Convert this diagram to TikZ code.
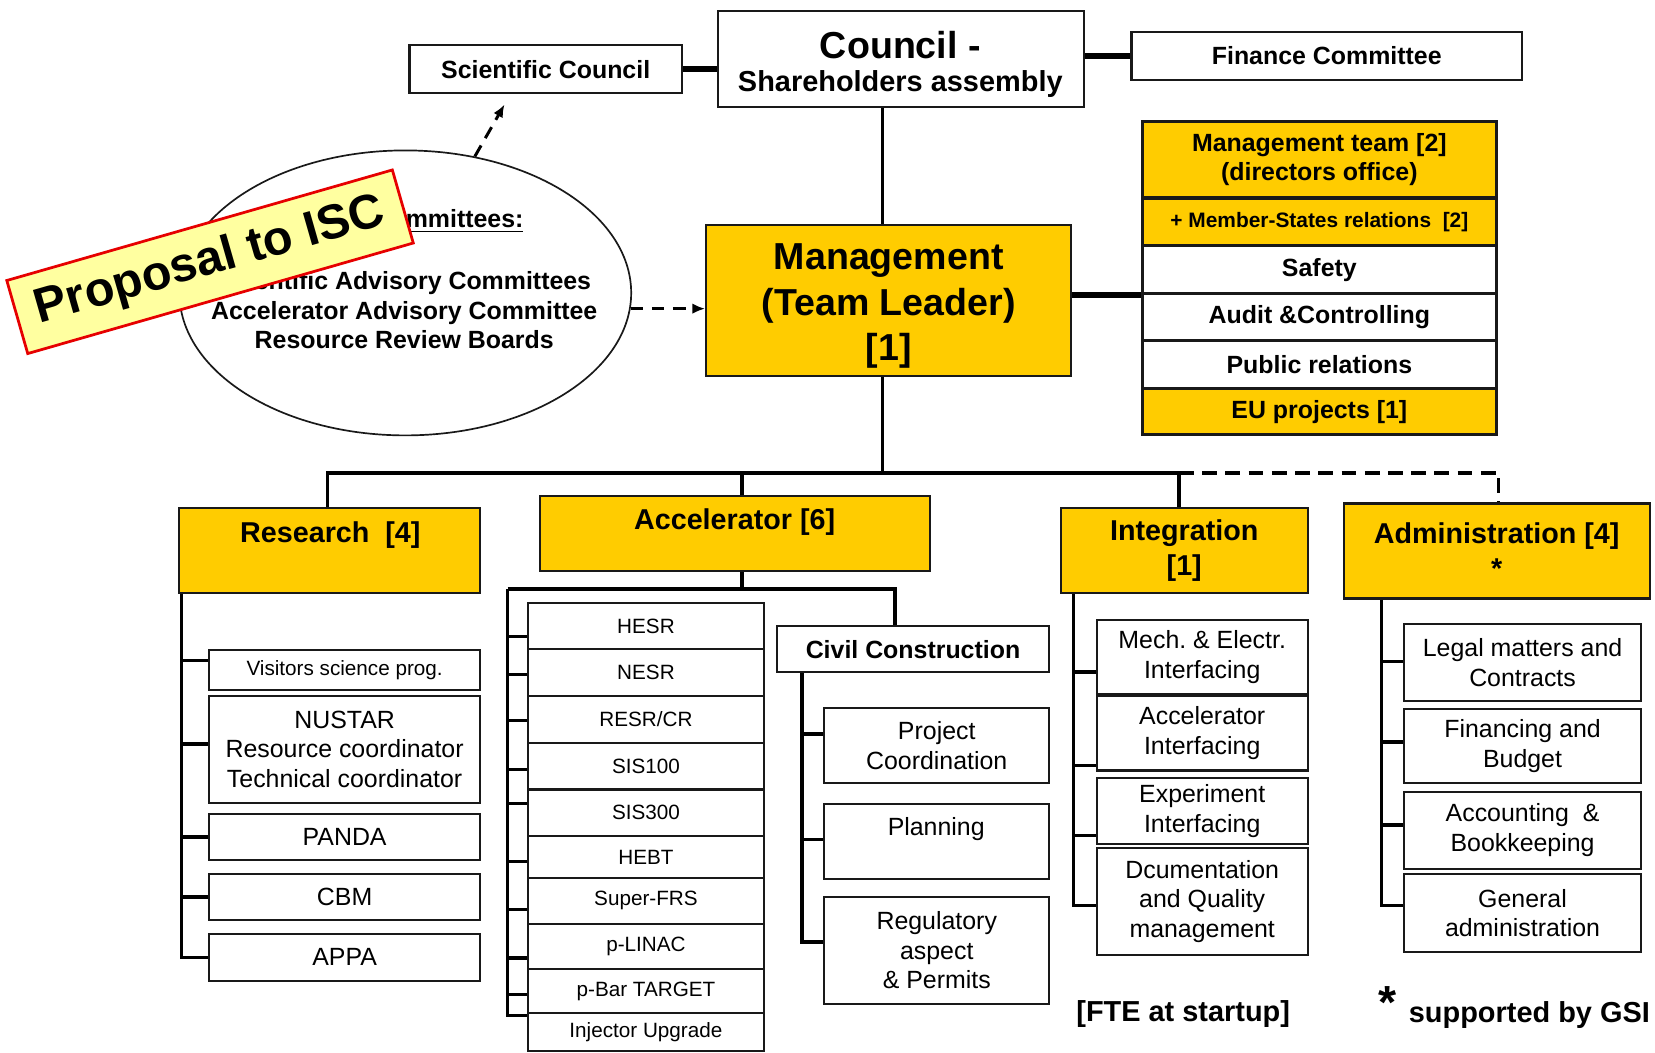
\documentclass[tikz,border=0pt]{standalone}
\usepackage{fontspec}
\setmainfont{Liberation Sans}
\usetikzlibrary{arrows.meta,shapes.geometric,calc}
\definecolor{fairyellow}{RGB}{255,204,0}
\definecolor{stickerfill}{RGB}{255,255,160}
\definecolor{stickerline}{RGB}{230,0,0}
\definecolor{ink}{RGB}{25,25,25}
\newcommand\fsz[2]{\fontsize{#1pt}{#2pt}\selectfont}
% \bx[style]{name}{x1}{y1}{x2}{y2}{text}: box between two corners
\newcommand\bx[7][]{\node[orgbox,#1,minimum width={(#5-#3)*0.5pt},minimum height={(#6-#4)*0.5pt}] (#2) at ({(#3+#5)/2},{(#4+#6)/2}) {#7};}
\begin{document}
\begin{tikzpicture}[x=0.5pt,y=-0.5pt,
  orgbox/.style={draw=ink,fill=white,line width=1pt,align=center,inner sep=1pt,text=black,font=\fsz{11.8}{14}},
  yel/.style={fill=fairyellow},
  stk/.style={line width=1.4pt,font=\fsz{11.8}{13.5}\bfseries},
  boldtext/.style={font=\fsz{11.8}{14}\bfseries},
  hdg/.style={font=\fsz{13.6}{16.5}\bfseries},
  smalltext/.style={font=\fsz{9.8}{12}},
  conn/.style={draw=black,line width=1.6pt},
  heavy/.style={draw=black,line width=2.6pt},
  dashconn/.style={draw=black,line width=1.6pt,dash pattern=on 7pt off 4pt},
  dasharrow/.style={draw=black,line width=1.4pt,dash pattern=on 6pt off 4pt,-{Latex[length=6pt,width=5pt]}}
]
\fill[white] (0,0) rectangle (1568,997);
\useasboundingbox (0,0) rectangle (1568,997);

% ---- governing bodies ----
\bx[boldtext]{sci}{388}{43}{646}{88}{Scientific Council}
\bx{council}{680}{10}{1027}{101}{}
\node[align=center] (councilT) at (853,61) {\fsz{17.8}{19}\bfseries Council -\\[4pt]\fsz{13.7}{19}\bfseries Shareholders assembly};
\bx[boldtext]{fin}{1072}{30}{1442}{76}{Finance Committee}
\bx[yel]{mgmt}{669}{213}{1015}{356}{}
\node[align=center,font=\fsz{17.8}{21.5}\bfseries] (mgmtT) at (842,290) {Management\\(Team Leader)\\{[1]}};

% ---- staff units beside the management ----
\bx[yel,stk]{mteam}{1082}{115}{1418}{187}{Management team [2]\\(directors office)}
\bx[yel,stk,font=\fsz{9.9}{12}\bfseries]{msr}{1082}{188}{1418}{233}{+ Member-States relations\ \ [2]}
\bx[stk]{safety}{1082}{233}{1418}{278}{Safety}
\bx[stk]{audit}{1082}{278}{1418}{323}{Audit \&Controlling}
\bx[stk]{pr}{1082}{323}{1418}{368}{Public relations}
\bx[yel,stk]{eu}{1082}{368}{1418}{412}{EU projects [1]}

% ---- advisory committees ----
\node[ellipse,draw=ink,line width=0.8pt,fill=white,minimum width=214pt,minimum height=135pt] (ell) at (384,277.5) {};
\node[anchor=base east,font=\fsz{11.8}{14}\bfseries] (comm) at (503,216) {\underline{Committees:}};
\node[align=center,font=\fsz{11.8}{14}\bfseries] (ellT) at (383,294) {Scientific Advisory Committees\\Accelerator Advisory Committee\\Resource Review Boards};

% ---- divisions ----
\bx[yel]{res}{170}{481}{455}{562}{}
\node[hdg] (resT) at (313,507) {Research\ \ [4]};
\bx[yel]{acc}{512}{470}{881}{541}{}
\node[hdg] (accT) at (696,495) {Accelerator [6]};
\bx[yel,hdg]{int}{1005}{481}{1239}{562}{Integration\\{[1]}}
\bx[yel,hdg]{adm}{1273}{477}{1563}{567}{Administration [4]\\*}

% ---- research groups ----
\bx[smalltext]{vis}{198}{616}{455}{654}{Visitors science prog.}
\bx{nus}{198}{659}{455}{761}{NUSTAR\\Resource coordinator\\Technical coordinator}
\bx{panda}{198}{771}{455}{815}{PANDA}
\bx{cbm}{198}{828}{455}{872}{CBM}
\bx{appa}{198}{885}{455}{929}{APPA}

% ---- accelerator projects ----
\bx[smalltext]{hesr}{500}{571}{724}{615}{HESR}
\bx[smalltext]{nesr}{500}{615}{724}{659}{NESR}
\bx[smalltext]{resr}{500}{659}{724}{704}{RESR/CR}
\bx[smalltext]{sisa}{500}{704}{724}{748}{SIS100}
\bx[smalltext]{sisb}{500}{748}{724}{792}{SIS300}
\bx[smalltext]{hebt}{500}{792}{724}{832}{HEBT}
\bx[smalltext]{sfrs}{500}{832}{724}{875}{Super-FRS}
\bx[smalltext]{plin}{500}{875}{724}{918}{p-LINAC}
\bx[smalltext]{pbar}{500}{918}{724}{960}{p-Bar TARGET}
\bx[smalltext]{inj}{500}{960}{724}{996}{Injector Upgrade}

% ---- civil construction ----
\bx[boldtext]{civ}{736}{593}{994}{637}{Civil Construction}
\bx{pc}{781}{671}{994}{742}{Project\\Coordination}
\bx{plan}{781}{762}{994}{833}{}
\node (planT) at (887,785) {\fsz{11.8}{14}Planning};
\bx{reg}{781}{850}{994}{951}{Regulatory\\aspect\\\& Permits}

% ---- integration ----
\bx{mech}{1039}{587}{1239}{658}{Mech.\ \& Electr.\\Interfacing}
\bx{acci}{1039}{659}{1239}{730}{Accelerator\\Interfacing}
\bx{expi}{1039}{737}{1239}{800}{Experiment\\Interfacing}
\bx{doc}{1039}{803}{1239}{905}{Dcumentation\\and Quality\\management}

% ---- administration ----
\bx{legal}{1330}{591}{1555}{664}{Legal matters and\\Contracts}
\bx{finb}{1330}{672}{1555}{742}{Financing and\\Budget}
\bx{acct}{1330}{750}{1555}{823}{Accounting\ \ \&\\Bookkeeping}
\bx{gen}{1330}{828}{1555}{902}{General\\administration}

% ---- top connectors ----
\coordinate (spine) at (836,0);
\coordinate (jm) at (836,448);
\coordinate (jr) at (310,448);
\coordinate (ja) at (703,448);
\coordinate (ji) at (1117,448);
\coordinate (jd) at (1420,448);
\draw[heavy] (sci.east) -- (sci.east -| council.west);
\draw[heavy] (fin.west) -- (fin.west -| council.east);
\draw[conn] (council.south -| spine) -- (mgmt.north -| spine);
\draw[heavy] (mgmt.east |- safety.south west) -- (safety.south west);
\draw[conn] (mgmt.south -| jm) -- (jm);
\draw[conn] (res.north -| jr) -- (jr) -- (ji) -- (int.north -| ji);
\draw[conn] (ja) -- (acc.north -| ja);
\draw[dashconn] (ji) -- (jd) -- (adm.north -| jd);

\coordinate (sctip) at (478,99);
\draw[dasharrow] (ell.63) -- (sctip);
\draw[dasharrow] (ell.-4) -- (ell.-4 -| mgmt.west);

% ---- research tree ----
\coordinate (rb) at (172,0);
\draw[conn] (res.south -| rb) |- (appa.west);
\foreach \n/\d in {vis/-9,nus/-5,panda/0,cbm/0}
  \draw[conn] ($(\n.west)+(0,\d)$) coordinate (t) -- (t -| rb);

% ---- accelerator tree ----
\coordinate (ab) at (703,558);
\coordinate (abL) at (481,558);
\coordinate (abR) at (848,558);
\draw[conn] (acc.south -| ab) -- (ab);
\draw[conn] (abL) -- (abR) -- (civ.north -| abR);
\draw[conn] (abL) |- ($(inj.north west)+(0,3)$);
\foreach \n/\d in {hesr/10,nesr/2,resr/1,sisa/3,sisb/-9,hebt/4,sfrs/8,plin/11,pbar/3}
  \draw[conn] ($(\n.west)+(0,\d)$) coordinate (t) -- (t -| abL);

% ---- civil construction tree ----
\coordinate (cb) at (760,0);
\draw[conn] (civ.south -| cb) |- ($(reg.west)+(0,-8)$);
\foreach \n/\d in {pc/-11,plan/-2}
  \draw[conn] ($(\n.west)+(0,\d)$) coordinate (t) -- (t -| cb);

% ---- integration tree ----
\coordinate (ib) at (1017,0);
\draw[conn] (int.south -| ib) |- ($(doc.west)+(0,4)$);
\foreach \n/\d in {mech/14,acci/31,expi/23}
  \draw[conn] ($(\n.west)+(0,\d)$) coordinate (t) -- (t -| ib);

% ---- administration tree ----
\coordinate (db) at (1309,0);
\draw[conn] (adm.south -| db) |- ($(gen.west)+(0,-7)$);
\foreach \n/\d in {legal/-1,finb/-4,acct/-5}
  \draw[conn] ($(\n.west)+(0,\d)$) coordinate (t) -- (t -| db);

% ---- notes ----
\node[font=\fsz{13.7}{16}\bfseries] (fte) at (1121,961) {[FTE at startup]};
\node[font=\fsz{22}{24}\bfseries] (star) at (1315,950) {*};
\node[font=\fsz{13.7}{16}\bfseries] (gsi) at (1449,962) {supported by GSI};

% ---- stamp ----
\node[draw=stickerline,line width=1.3pt,fill=stickerfill,rotate=16,minimum width=190pt,minimum height=36pt,font=\fsz{23}{26}\bfseries] (isc) at (199,248) {Proposal to ISC};
\end{tikzpicture}
\end{document}
